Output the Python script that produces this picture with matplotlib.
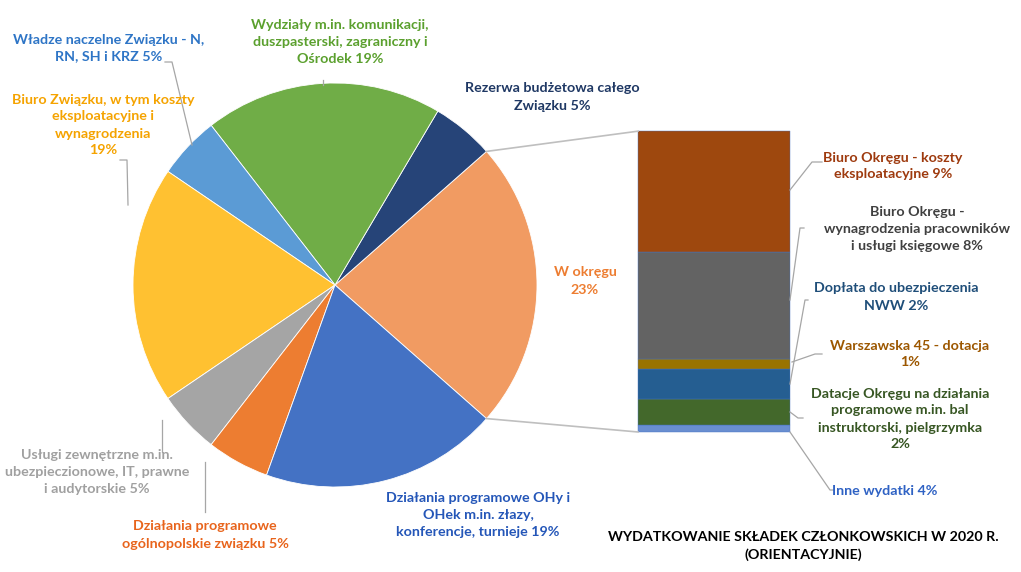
import numpy as np
import matplotlib
matplotlib.use('Agg')
import matplotlib.pyplot as plt

plt.rcParams['font.family'] = ['Lato', 'DejaVu Sans']

# pie: main budget, counter-clockwise from "W okręgu"
pie_labels = ['W okręgu\n23%',
              'Rezerwa budżetowa całego\nZwiązku 5%',
              'Wydziały m.in. komunikacji,\nduszpasterski, zagraniczny i\nOśrodek 19%',
              'Władze naczelne Związku - N,\nRN, SH i KRZ 5%',
              'Biuro Związku, w tym koszty\neksploatacyjne i\nwynagrodzenia\n19%',
              'Usługi zewnętrzne m.in.\nubezpieczionowe, IT, prawne\ni audytorskie 5%',
              'Działania programowe\nogólnopolskie związku 5%',
              'Działania programowe OHy i\nOHek m.in. złazy,\nkonferencje, turnieje 19%']
pie_values = [23, 5, 19, 5, 19, 5, 5, 19]
pie_colors = ['#F19B62', '#264478', '#70AD47', '#5B9BD5',
              '#FFC131', '#A5A5A5', '#ED7D31', '#4472C4']
pie_text_colors = ['#ED7D31', '#1F3864', '#5BA02E', '#2E75C6',
                   '#F5A300', '#A0A0A0', '#E8641C', '#2456B8']

# bar: breakdown of "W okręgu", bottom to top
bar_labels = ['Inne wydatki 4%',
              'Datacje Okręgu na działania\nprogramowe m.in. bal\ninstruktorski, pielgrzymka\n2%',
              'Dopłata do ubezpieczenia\nNWW 2%',
              'Warszawska 45 - dotacja\n1%',
              'Biuro Okręgu -\nwynagrodzenia pracowników\ni usługi księgowe 8%',
              'Biuro Okręgu - koszty\neksploatacyjne 9%']
bar_values = [0.5, 2, 2.2, 0.75, 8, 9]
bar_colors = ['#698ED0', '#43682B', '#255E91', '#997300', '#636363', '#9E480E']
bar_text_colors = ['#2F62C4', '#375623', '#1F4E79', '#9C5700', '#404040', '#9E3A0E']

title = 'WYDATKOWANIE SKŁADEK CZŁONKOWSKICH W 2020 R.\n(ORIENTACYJNIE)'

W, H = 1021, 572
fig = plt.figure(figsize=(W / 100, H / 100), dpi=100)
ax = fig.add_axes([0, 0, 1, 1])


def py(y):
    # pixel row (from top) -> data y
    return H - y


cx, cy, r = 335, py(285), 202
start = -360 * pie_values[0] / sum(pie_values) / 2
wedges, _ = ax.pie(pie_values, colors=pie_colors, startangle=start,
                   counterclock=True, center=(cx, cy), radius=r,
                   wedgeprops=dict(edgecolor='white', linewidth=0.6),
                   frame=True)
ax.set_xlim(0, W)
ax.set_ylim(0, H)
ax.set_aspect('equal')
ax.axis('off')

# stacked bar
scale = 13.4
bx, bw = 714, 152
bottom = py(432)
tops = []
for v, c in zip(bar_values, bar_colors):
    ax.bar(bx, v * scale, bw, bottom=bottom, color=c, edgecolor='#4472C4', linewidth=0.3)
    tops.append((bottom, bottom + v * scale))
    bottom += v * scale

# connectors pie -> bar
lc = '#BFBFBF'
t1, t2 = np.radians(wedges[0].theta1), np.radians(wedges[0].theta2)
ax.plot([cx + r * np.cos(t2), bx - bw / 2], [cy + r * np.sin(t2), tops[-1][1]], color=lc, lw=1.2)
ax.plot([cx + r * np.cos(t1), bx - bw / 2], [cy + r * np.sin(t1), tops[0][0]], color=lc, lw=1.2)

fs = 10.3
ls = 1.5
pie_pos = [(585, 281), (552, 97), (340, 42), (109, 48), (103, 125),
           (97, 472), (205, 535), (478, 515)]
for lab, (x, y), c in zip(pie_labels, pie_pos, pie_text_colors):
    ax.text(x, py(y), lab, color=c, fontsize=fs, fontweight='bold',
            ha='center', va='center', linespacing=ls)

bar_pos = [(885, 491), (900, 419), (896, 297), (910, 354), (917, 229), (893, 166)]
for lab, (x, y), c in zip(bar_labels, bar_pos, bar_text_colors):
    ax.text(x, py(y), lab, color=c, fontsize=fs, fontweight='bold',
            ha='center', va='center', linespacing=ls)

ax.text(803, py(546), title, color='black', fontsize=fs, fontweight='bold',
        ha='center', va='center', linespacing=ls)

# leader lines (pixel coords)
leaders = [
    [(165, 62), (172, 62), (192, 145)],
    [(120, 160), (127, 160), (128, 205)],
    [(323, 80), (323, 85)],
    [(162, 452), (162, 420)],
    [(205, 512), (205, 462)],
    [(790, 190), (812, 162), (822, 162)],
    [(790, 300), (800, 228), (804, 228)],
    [(790, 384), (805, 300), (808, 300)],
    [(792, 362), (815, 354), (822, 354)],
    [(790, 412), (798, 418), (803, 418)],
    [(790, 432), (830, 490), (834, 490)],
]
for pts in leaders:
    xs, ys = zip(*pts)
    ax.plot(xs, [py(y) for y in ys], color='#A6A6A6', lw=0.9)

fig.savefig('out.png', dpi=100)
